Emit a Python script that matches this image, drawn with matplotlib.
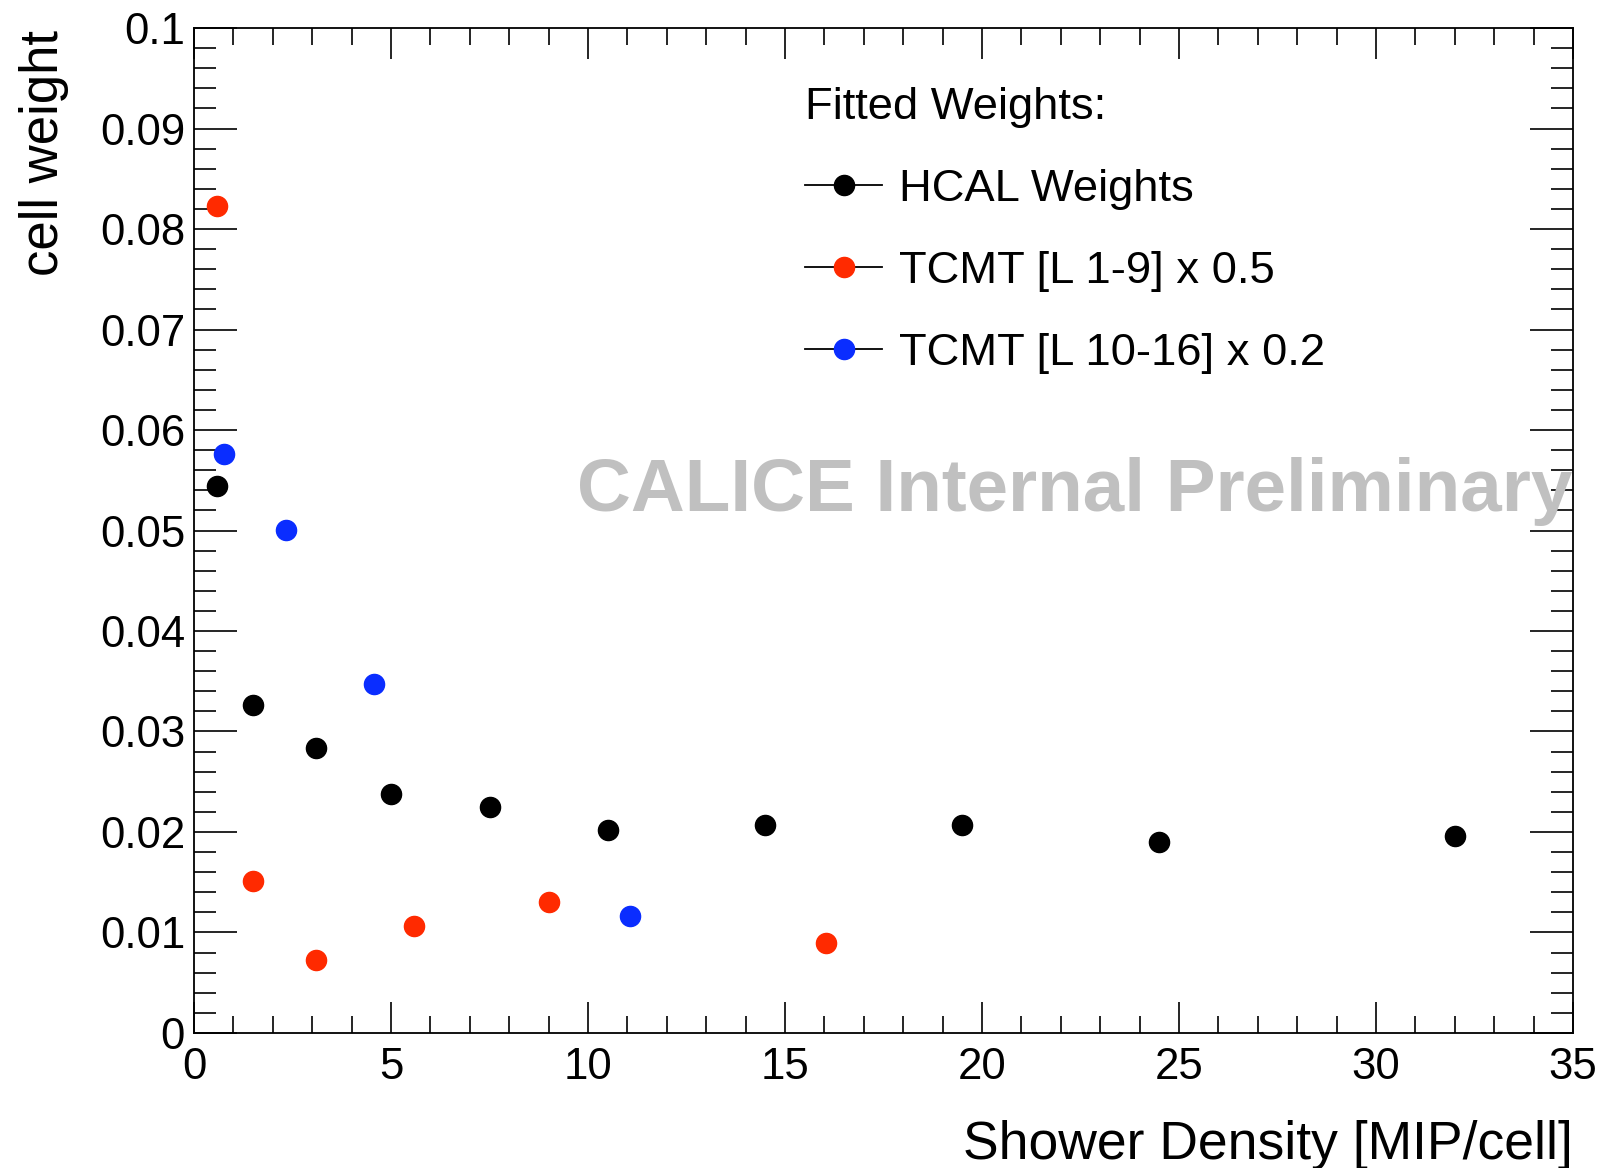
import numpy as np
import matplotlib
matplotlib.use("Agg")
import matplotlib.pyplot as plt
from matplotlib.ticker import MultipleLocator, FixedLocator, FixedFormatter

plt.rcParams['font.family'] = ['Liberation Sans', 'DejaVu Sans']

# HCAL weights
hcal_x = [0.57, 1.50, 3.09, 5.00, 7.52, 10.50, 14.49, 19.50, 24.50, 32.00]
hcal_w = [0.0544, 0.0326, 0.0284, 0.0238, 0.0225, 0.0202, 0.0207, 0.0207, 0.0190, 0.0196]

# TCMT layers 1-9 (x 0.5)
tcmt1_x = [0.57, 1.50, 3.09, 5.57, 9.02, 16.05]
tcmt1_w = [0.0823, 0.0151, 0.0073, 0.0106, 0.0130, 0.0090]

# TCMT layers 10-16 (x 0.2)
tcmt2_x = [0.75, 2.33, 4.56, 11.07]
tcmt2_w = [0.0576, 0.0501, 0.0347, 0.0116]

x_ticks = [0, 5, 10, 15, 20, 25, 30, 35]
y_ticks = [0, 0.01, 0.02, 0.03, 0.04, 0.05, 0.06, 0.07, 0.08, 0.09, 0.1]
y_tick_labels = ['0', '0.01', '0.02', '0.03', '0.04', '0.05', '0.06', '0.07', '0.08', '0.09', '0.1']

RED = '#ff2a00'
BLUE = '#0a2dff'

fig = plt.figure(figsize=(16.04, 11.68), dpi=100)
ax = fig.add_axes([0.121, 0.1156, 0.8597, 0.8604])

ax.plot(hcal_x, hcal_w, 'o', color='black', markersize=14.5, label='HCAL Weights')
ax.plot(tcmt1_x, tcmt1_w, 'o', color=RED, markersize=14.5, label='TCMT [L 1-9] x 0.5')
ax.plot(tcmt2_x, tcmt2_w, 'o', color=BLUE, markersize=14.5, label='TCMT [L 10-16] x 0.2')

ax.set_xlim(0, 35)
ax.set_ylim(0, 0.1)

ax.xaxis.set_major_locator(FixedLocator(x_ticks))
ax.xaxis.set_minor_locator(MultipleLocator(1))
ax.yaxis.set_major_locator(FixedLocator(y_ticks))
ax.yaxis.set_major_formatter(FixedFormatter(y_tick_labels))
ax.yaxis.set_minor_locator(MultipleLocator(0.002))

ax.tick_params(which='both', direction='in', top=True, right=True, width=1.2, labelsize=31.5)
ax.xaxis.set_tick_params(which='major', length=22, pad=10)
ax.xaxis.set_tick_params(which='minor', length=12)
ax.yaxis.set_tick_params(which='major', length=31, pad=6.5)
ax.yaxis.set_tick_params(which='minor', length=16)
for s in ax.spines.values():
    s.set_linewidth(1.3)

ax.set_xlabel('Shower Density [MIP/cell]', fontsize=38.5, loc='right')
ax.xaxis.label.set_va('baseline')
ax.xaxis.set_label_coords(1.0, -0.125)
ax.set_ylabel('cell weight', fontsize=38, loc='top')
ax.yaxis.set_label_coords(-0.091, 0.998)

# watermark
ax.text(0.278, 0.519, 'CALICE Internal Preliminary', transform=ax.transAxes,
        fontsize=53.7, fontweight='bold', color='#c0c0c0', ha='left', va='baseline')

leg = ax.legend(title='Fitted Weights:', loc='upper left', bbox_to_anchor=(0.443, 0.941),
                frameon=False, fontsize=32.7, title_fontsize=32.7, borderpad=0,
                handlelength=1.7, handletextpad=0.36, labelspacing=0.9,
                borderaxespad=0, numpoints=1)
leg._legend_box.align = 'left'
for h in leg.legend_handles:
    h.set_linestyle('-')
    h.set_linewidth(1.3)
    h.set_color('black')
for h, c in zip(leg.legend_handles, ['black', RED, BLUE]):
    h.set_markerfacecolor(c)
    h.set_markeredgecolor(c)

fig.savefig('out.png', dpi=100)
